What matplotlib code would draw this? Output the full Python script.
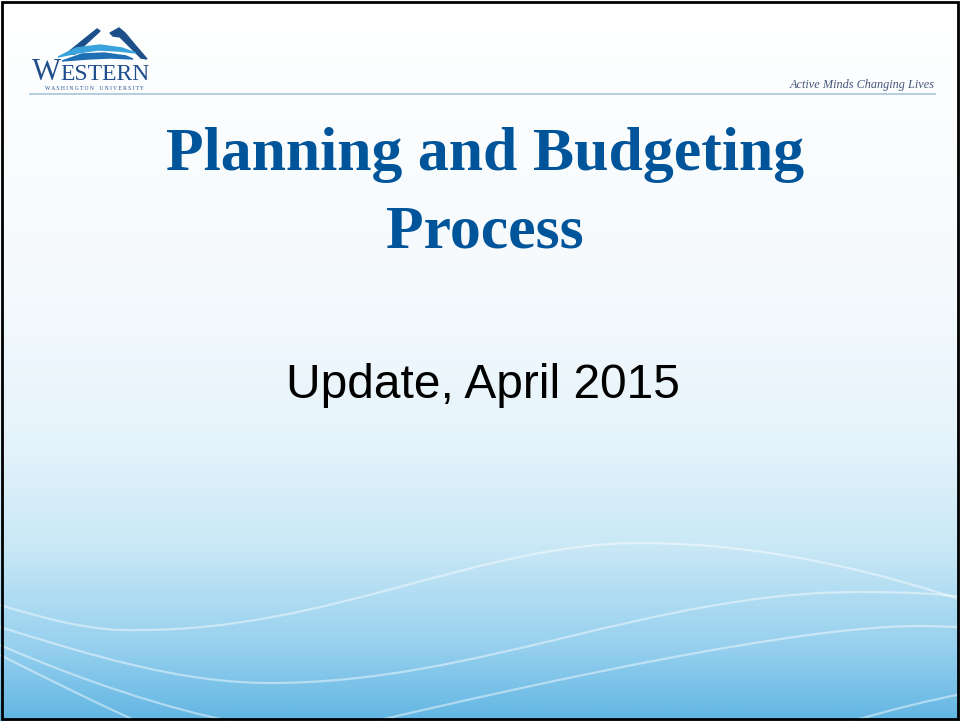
import numpy as np
import matplotlib
matplotlib.use('Agg')
import matplotlib.pyplot as plt
from matplotlib.path import Path
from matplotlib.patches import PathPatch, Polygon, Rectangle
from matplotlib.colors import LinearSegmentedColormap

# slide text
title_lines = ["Planning and Budgeting", "Process"]
subtitle = "Update, April 2015"
tagline = "Active Minds Changing Lives"
logo_initial = "W"
logo_rest = "ESTERN"
logo_sub = "W A S H I N G T O N    U N I V E R S I T Y"

# background gradient stops (position 0 = top, 1 = bottom)
grad_pos = [0.0, 0.40, 0.62, 0.76, 0.90, 1.0]
grad_col = ["#ffffff", "#f5fafd", "#e4f3fb", "#c9e8f6", "#96d0ee", "#63b6e3"]

# decorative white swoosh lines (cubic bezier vertices, slide pixels)
waves = [
    [(0, 605), (50, 620), (95, 632), (140, 630), (330, 630), (480, 543), (640, 543),
     (780, 543), (900, 580), (962, 600)],
    [(0, 627), (90, 655), (180, 683), (270, 683), (480, 683), (650, 592), (860, 592),
     (910, 592), (940, 594), (962, 597)],
    [(0, 645), (80, 680), (170, 710), (240, 723)],
    [(0, 655), (50, 680), (100, 705), (141, 723)],
    [(367, 723), (550, 680), (800, 626), (918, 626), (940, 626), (950, 627), (962, 627)],
    [(845, 723), (890, 710), (930, 700), (962, 694)],
]

W, H = 960, 721
fig = plt.figure(figsize=(9.6, 7.21), dpi=100)
ax = fig.add_axes([0, 0, 1, 1])
ax.set_xlim(0, W)
ax.set_ylim(H, 0)
ax.axis('off')

cmap = LinearSegmentedColormap.from_list('bg', list(zip(grad_pos, grad_col)))
grad = np.linspace(0, 1, 400).reshape(-1, 1)
ax.imshow(grad, cmap=cmap, extent=[0, W, H, 0], aspect='auto', zorder=0)

for pts in waves:
    codes = [Path.MOVETO] + [Path.CURVE4] * (len(pts) - 1)
    ax.add_patch(PathPatch(Path(pts, codes), fill=False, edgecolor='white',
                           lw=1.6, alpha=0.45, zorder=1))

# logo marks
ax.add_patch(Polygon([(66, 54), (82, 41), (97, 29), (100, 31), (87, 43), (75, 54)],
                     closed=True, color='#1d4f8a', zorder=2))
ax.add_patch(Polygon([(110, 33), (119, 28), (125, 33), (135, 45), (147, 59),
                      (141, 58), (129, 46), (120, 37), (113, 36)],
                     closed=True, color='#1d4f8a', zorder=2))
ax.add_patch(Polygon([(58, 57), (76, 48), (100, 45), (122, 48), (136, 53),
                      (118, 51), (98, 50), (78, 53)],
                     closed=True, color='#3aa3dc', zorder=2))
ax.add_patch(Polygon([(62, 61), (82, 54), (104, 53), (126, 56), (133, 59),
                      (110, 58), (88, 59)],
                     closed=True, color='#1f6fb5', zorder=2))
ax.text(32, 80, logo_initial, fontsize=22, family='Liberation Serif', color='#1f4e8c',
        ha='left', va='baseline', zorder=3)
ax.text(150, 80, logo_rest, fontsize=17, family='Liberation Serif', color='#1f4e8c',
        ha='right', va='baseline', zorder=3)
ax.text(94, 90.5, logo_sub, fontsize=4.0, family='Liberation Serif', color='#1f4e8c',
        ha='center', va='baseline', zorder=3)

ax.plot([30, 935], [94, 94], color='#a9c5d8', lw=1.2, zorder=2)
ax.text(935, 88, tagline, fontsize=8.8, family='Liberation Serif', style='italic',
        color='#44557a', ha='right', va='baseline', zorder=3)

ax.text(485, 170, title_lines[0], fontsize=44.5, family='Liberation Serif', weight='bold',
        color='#00559a', ha='center', va='baseline', zorder=3)
ax.text(485, 247, title_lines[1], fontsize=44.5, family='Liberation Serif', weight='bold',
        color='#00559a', ha='center', va='baseline', zorder=3)

ax.text(483, 398, subtitle, fontsize=34.5, family='Liberation Sans', color='black',
        ha='center', va='baseline', zorder=3)

ax.add_patch(Rectangle((1.5, 1.5), W - 4, H - 3.5, fill=False, edgecolor='black',
                       lw=2, zorder=4))

fig.savefig('out.png', dpi=100)
